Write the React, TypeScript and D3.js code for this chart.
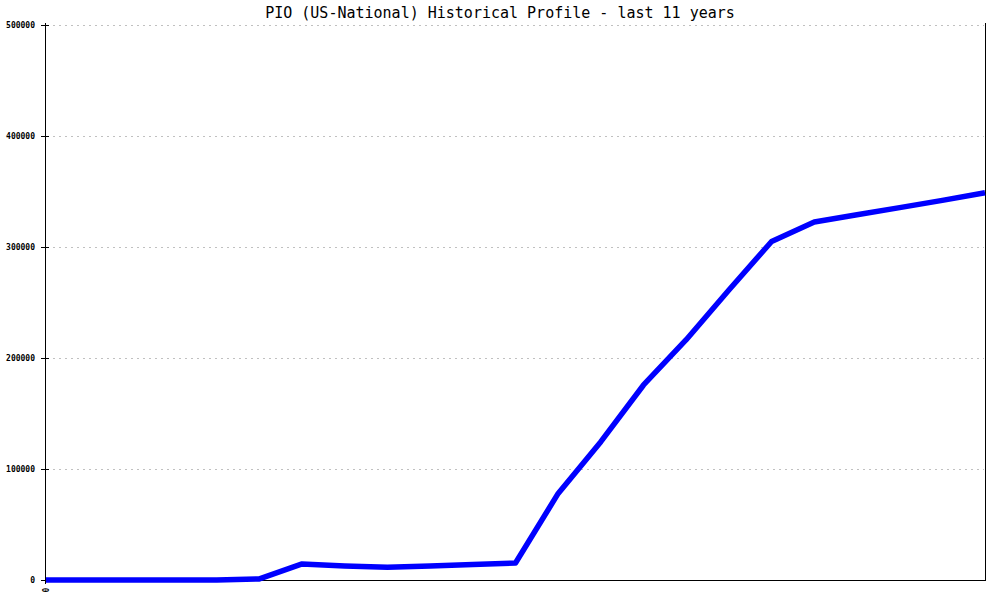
import * as d3 from "d3"

// half-year samples over the last 11 years
const periods = d3.range(23)
const members = [
  0, 0, 0, 0, 0, 1000, 14500, 12600, 11400, 12600, 14000, 15300,
  78000, 124600, 175700, 216500, 261300, 305000, 322500, 329000, 335500, 342000, 348800,
]
const yTicks = [0, 100000, 200000, 300000, 400000, 500000]
const xTickLabels = ["0"]

const title = "PIO (US-National) Historical Profile - last 11 years"

export default function App() {
  const width = 1000
  const height = 600
  const margin = { top: 25, right: 15, bottom: 20, left: 46 }

  const x = d3
    .scaleLinear()
    .domain([0, periods.length - 1])
    .range([margin.left, width - margin.right])
  const y = d3
    .scaleLinear()
    .domain([0, 500000])
    .range([height - margin.bottom, margin.top])

  const line = d3
    .line<number>()
    .x((_, i) => x(periods[i]))
    .y((d) => y(d))

  const mono = "'DejaVu Sans Mono', 'Liberation Mono', monospace"

  return (
    <svg
      width={width}
      height={height}
      style={{ position: "absolute", left: 0, top: 0, background: "#fff" }}
    >
      <rect width={width} height={height} fill="#fff" />

      {/* grid */}
      {yTicks
        .filter((t) => t > 0)
        .map((t) => (
          <line
            key={"g" + t}
            x1={x(0) + 1}
            x2={x(periods.length - 1) - 1}
            y1={y(t) + 0.5}
            y2={y(t) + 0.5}
            stroke="#c0c0c0"
            strokeDasharray="2,4"
          />
        ))}

      {/* axes frame */}
      <line x1={x(0) - 0.5} x2={x(0) - 0.5} y1={y(500000) - 2} y2={y(0) + 4} stroke="#000" />
      <line
        x1={x(periods.length - 1) + 0.5}
        x2={x(periods.length - 1) + 0.5}
        y1={y(500000) - 2}
        y2={y(0)}
        stroke="#000"
      />
      <line x1={x(0)} x2={x(periods.length - 1) + 1} y1={y(0) + 0.5} y2={y(0) + 0.5} stroke="#000" />

      {/* y ticks */}
      {yTicks.map((t) => (
        <g key={"t" + t}>
          <line x1={x(0) - 5} x2={x(0) + 3} y1={y(t) + 0.5} y2={y(t) + 0.5} stroke="#000" />
          <text
            x={x(0) - 11}
            y={y(t) + 3}
            textAnchor="end"
            fontFamily={mono}
            fontSize={8}
            fontWeight="bold"
            fill="#000"
          >
            {t}
          </text>
        </g>
      ))}

      {/* x tick label */}
      {xTickLabels.map((l, i) => (
        <text
          key={"x" + i}
          transform={`translate(${x(i) + 3}, ${y(0) + 10}) rotate(-90)`}
          textAnchor="middle"
          fontFamily={mono}
          fontSize={8}
          fontWeight="bold"
          fill="#000"
        >
          {l}
        </text>
      ))}

      {/* series */}
      <path
        d={line(members) ?? ""}
        fill="none"
        stroke="#0000ff"
        strokeWidth={5.5}
        strokeLinejoin="round"
      />

      <text x={width / 2} y={18} textAnchor="middle" fontFamily={mono} fontSize={15} fill="#000">
        {title}
      </text>
    </svg>
  )
}
